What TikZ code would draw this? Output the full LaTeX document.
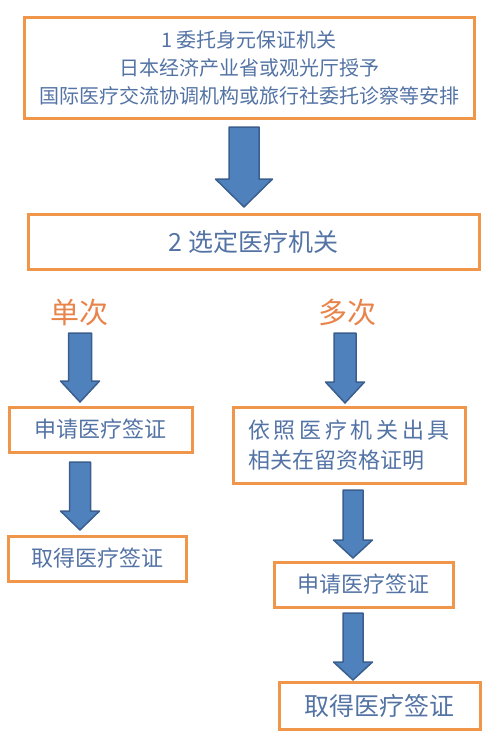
\documentclass[tikz,border=0pt]{standalone}
\usepackage{fontspec}
\setmainfont{Noto Sans CJK SC}
\definecolor{boxorange}{HTML}{F0964B}
\definecolor{txtblue}{HTML}{5373A5}
\definecolor{arrowfill}{HTML}{4F81BD}
\definecolor{arrowline}{HTML}{3A5F8E}
\definecolor{kindorange}{HTML}{E8834A}
% x, top, tip, shaft half width, head half width, head length
\newcommand{\bigdown}[6]{%
  \draw[blockarrow] (#1-#4,#2) -- (#1+#4,#2) -- (#1+#4,#3-#6) -- (#1+#5,#3-#6)
    -- (#1,#3) -- (#1-#5,#3-#6) -- (#1-#4,#3-#6) -- cycle;}
\begin{document}
\begin{tikzpicture}[x=1pt,y=-1pt,
    box/.style = {draw=boxorange, line width=3pt, text=txtblue, align=center, inner sep=0pt},
    kind/.style = {text=kindorange, font=\fontsize{29}{30}\selectfont},
    blockarrow/.style = {fill=arrowfill, draw=arrowline, line width=1.5pt, line join=round}]
  \useasboundingbox (0,0) rectangle (500,755);
  \node[box, minimum width=450pt, minimum height=101pt, font=\fontsize{20}{28}\selectfont] (entrust) at (249,67.5)
    {1 委托身元保证机关\\日本经济产业省或观光厅授予\\国际医疗交流协调机构或旅行社委托诊察等安排};
  \node[box, minimum width=451pt, minimum height=55pt, font=\fontsize{25}{27}\selectfont] (choose) at (253.5,241.5) {2 选定医疗机关};
  \node[kind] (single) at (79,313) {单次};
  \node[kind] (multi) at (347,313) {多次};
  \node[box, minimum width=183pt, minimum height=45pt, font=\fontsize{22}{24}\selectfont] (apply1) at (100.5,429.5) {申请医疗签证};
  \node[box, minimum width=178pt, minimum height=45pt, font=\fontsize{22}{24}\selectfont] (get1) at (97,558.5) {取得医疗签证};
  \node[box, align=left, minimum width=232pt, minimum height=76pt, font=\fontsize{22}{30}\selectfont] (proof) at (349,445)
    {依\,照\,医\,疗\,机\,关\,出\,具\\相关在留资格证明};
  \node[box, minimum width=179pt, minimum height=45pt, font=\fontsize{22}{24}\selectfont] (apply2) at (363.5,584.5) {申请医疗签证};
  \node[box, minimum width=201pt, minimum height=47pt, font=\fontsize{25}{27}\selectfont] (get2) at (379.5,705.5) {取得医疗签证};
  % block arrows
  \bigdown{244}{127}{207}{15}{28.5}{28}
  \bigdown{80}{333}{402}{11.5}{19.5}{21}
  \bigdown{80}{462}{530}{10.5}{19.5}{19}
  \bigdown{345}{333}{403}{11}{19.5}{21}
  \bigdown{353}{490}{558}{10}{19.5}{18}
  \bigdown{353}{613}{680}{10}{19.5}{18}
\end{tikzpicture}
\end{document}
